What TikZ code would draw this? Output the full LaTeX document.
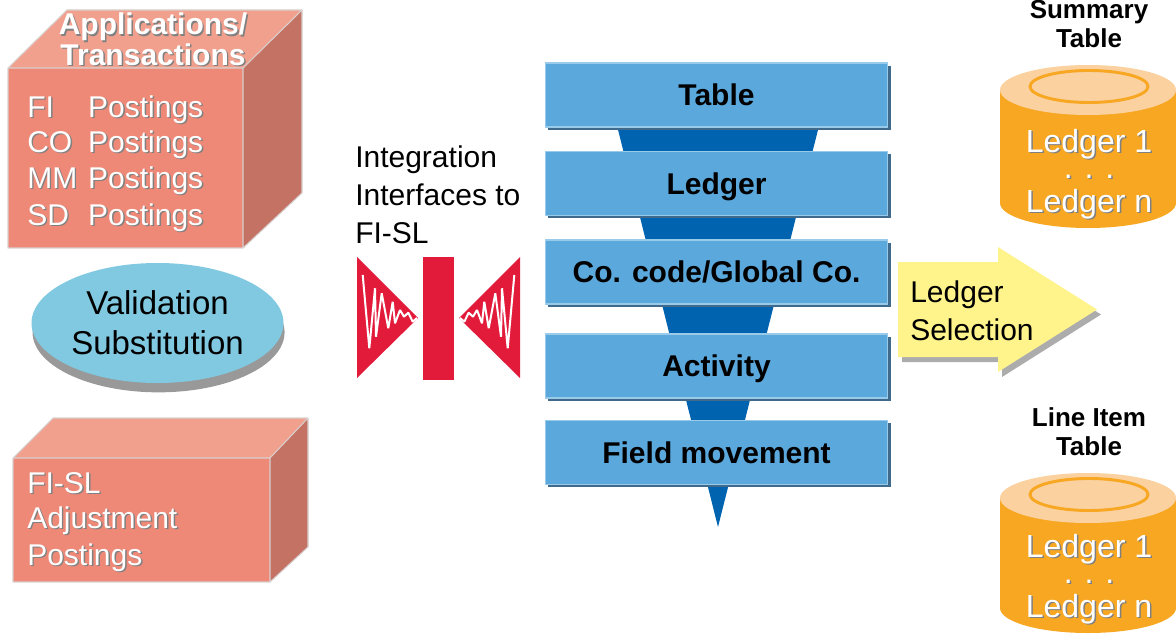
\documentclass[tikz,border=0pt]{standalone}
\usepackage{fontspec}
\setmainfont{Liberation Sans}
\usetikzlibrary{shapes.geometric,shadows}

\definecolor{cubefront}{HTML}{EE8877}
\definecolor{cubetop}{HTML}{F1A08D}
\definecolor{cubeside}{HTML}{C47264}
\definecolor{cubeedge}{HTML}{D8D0CE}
\definecolor{ovalblue}{HTML}{80C9E1}
\definecolor{iconred}{HTML}{E31B3B}
\definecolor{boxblue}{HTML}{5AA8DC}
\definecolor{boxedge}{HTML}{9ACAEA}
\definecolor{boxshade}{HTML}{3F6A8B}
\definecolor{funnelblue}{HTML}{0063AF}
\definecolor{selyellow}{HTML}{FFF38C}
\definecolor{cylorange}{HTML}{F7A721}
\definecolor{cyltop}{HTML}{FBD1A0}

% white lettering with a grey drop shadow
\newcommand{\shd}[1]{\leavevmode\rlap{\kern1.1pt\raisebox{-1.1pt}{\textcolor{black!50}{#1}}}#1}

% red triangle with a white signal trace
\newcommand{\signalicon}{%
  \fill[iconred] (357,257) -- (418,318) -- (357,378) -- cycle;
  \draw[white,line width=1.5pt,line join=bevel]
    (362.7,275) -- (369.3,348.3) -- (375,288.3) -- (376,336.7) -- (381.7,293.3)
    -- (388.3,328.3) -- (392.7,301.7) -- (395,323.3) -- (400,310) -- (404,316.7)
    -- (408.3,312.7) -- (412.7,321.7) -- (417,318);}

\begin{document}
\begin{tikzpicture}[x=0.75pt,y=-0.75pt,
  every node/.style={inner sep=0pt},
  cubetext/.style={text=white,font=\fontsize{22.5}{27}\selectfont},
  cubehead/.style={text=white,font=\fontsize{22.5}{27}\selectfont\bfseries},
  plain/.style={text=black,font=\fontsize{22.5}{27}\selectfont},
  fbox/.style={draw=boxedge,fill=boxblue,line width=0.8pt,
    minimum width=257pt,minimum height=48pt,text height=16pt,text depth=0pt,
    font=\fontsize{22.5}{27}\selectfont\bfseries,
    drop shadow={shadow xshift=2.2pt,shadow yshift=-2.2pt,fill=boxshade,opacity=1}},
  cyltext/.style={text=white,align=center,font=\fontsize{24}{25.5}\selectfont},
  cylhead/.style={text=black,font=\fontsize{19.5}{23}\selectfont\bfseries}]

\useasboundingbox (0,0) rectangle (1176,635);

% source cube
\fill[cubefront] (8,68) rectangle (243,248);
\fill[cubetop] (8,68) -- (67,10) -- (302,10) -- (243,68) -- cycle;
\fill[cubeside] (243,68) -- (302,10) -- (302,193) -- (243,248) -- cycle;
\draw[cubeedge,line width=0.8pt,line join=round] (8,68) rectangle (243,248)
  (8,68) -- (67,10) -- (302,10) -- (243,68) (302,10) -- (302,193) -- (243,248);
\node[cubehead,anchor=base] (apps) at (153,35) {\shd{Applications/}};
\node[cubehead,anchor=base] (trans) at (153,65) {\shd{Transactions}};
\foreach \n/\a/\y in {1/FI/117,2/CO/152,3/MM/188,4/SD/225}
  \node[cubetext,anchor=base west] (post\n) at (27,\y) {\shd{\makebox[2.03em][l]{\a}Postings}};

% validation oval
\node[ellipse,fill=ovalblue,minimum width=189pt,minimum height=90pt,align=center,
  font=\fontsize{24.75}{30}\selectfont,
  drop shadow={shadow xshift=0.8pt,shadow yshift=-7pt,fill=gray!80,opacity=1}]
  (valsub) at (157.5,323) {Validation\\Substitution};

% adjustment cube
\fill[cubefront] (13,458) rectangle (270,582);
\fill[cubetop] (13,458) -- (53,418) -- (308,418) -- (270,458) -- cycle;
\fill[cubeside] (270,458) -- (308,418) -- (308,547) -- (270,582) -- cycle;
\draw[cubeedge,line width=0.8pt,line join=round] (13,458) rectangle (270,582)
  (13,458) -- (53,418) -- (308,418) -- (270,458) (308,418) -- (308,547) -- (270,582);
\foreach \n/\t/\y in {1/FI-SL/493,2/Adjustment/528,3/Postings/565}
  \node[cubetext,anchor=base west] (adj\n) at (27,\y) {\shd{\t}};

% interfaces
\foreach \n/\t/\y in {1/Integration/167,2/Interfaces to/205,3/FI-SL/243}
  \node[plain,anchor=base west] (intf\n) at (355,\y) {\t};
\signalicon
\fill[iconred] (423,257) rectangle (454,380);
\begin{scope}[shift={(877,0)},xscale=-1]
  \signalicon
\end{scope}

% funnel
\fill[funnelblue] (610.5,100) -- (825.5,100) -- (718,527) -- cycle;
\foreach \n/\y/\t in {table/95/Table,ledger/183.5/Ledger,cocode/272/{Co. code/Global Co.},
    activity/366/Activity,field/452.5/Field movement}
  \node[fbox] (\n) at (716.5,\y) {\t};

% ledger selection arrow
\fill[gray!65,shift={(4,5)}] (898,262) -- (998,262) -- (998,247) -- (1097,309.5)
  -- (998,372) -- (998,357) -- (898,357) -- cycle;
\fill[selyellow] (898,262) -- (998,262) -- (998,247) -- (1097,309.5)
  -- (998,372) -- (998,357) -- (898,357) -- cycle;
\node[plain,anchor=base west] (sel1) at (910,302) {Ledger};
\node[plain,anchor=base west] (sel2) at (910,340) {Selection};

% tables
\node[cylhead,anchor=base] (sumhead1) at (1089,19) {Summary};
\node[cylhead,anchor=base] (sumhead2) at (1089,48) {Table};
\node[cylhead,anchor=base] (itemhead1) at (1089,426) {Line Item};
\node[cylhead,anchor=base] (itemhead2) at (1089,455) {Table};
\foreach \c/\t/\b/\y in {sum/90/203/129,item/498/608/534}{
  \fill[cylorange] (1088,\b) ellipse [x radius=88,y radius=25];
  \fill[cylorange] (1000,\t) rectangle (1176,\b);
  \fill[cyltop] (1088,\t) ellipse [x radius=88,y radius=25];
  \draw[cylorange,line width=2.2pt] (1089,\t-3.5) ellipse [x radius=59,y radius=16];
  \node[cyltext,anchor=north] (\c-ledgers) at (1089,\y)
    {\shd{Ledger 1}\\[-6pt]\shd{. . .}\\\shd{Ledger n}};
}
\end{tikzpicture}
\end{document}
